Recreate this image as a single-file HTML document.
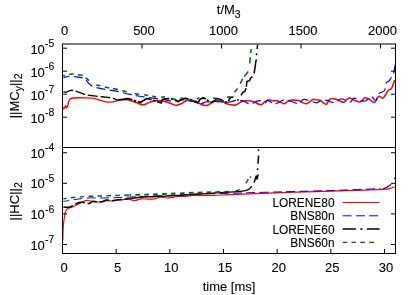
<!DOCTYPE html>
<html><head><meta charset="utf-8"><title>plot</title>
<style>html,body{margin:0;padding:0;background:#fff;}svg{display:block;will-change:transform;}text{font-family:"Liberation Sans",sans-serif;fill:#000;}</style>
</head><body>
<svg width="415" height="295" viewBox="0 0 415 295">
<rect x="0" y="0" width="415" height="295" fill="#ffffff"/>
<g>
<polyline fill="none" stroke="#ff0000" stroke-width="1.35" stroke-linejoin="round" points="63.0,109.4 64.1,107.3 64.6,108.3 65.6,105.8 66.6,107.8 67.7,106.3 68.2,103.3 69.2,100.2"/>
<path fill="none" stroke="#ff0000" stroke-width="1.35" stroke-linejoin="round" d="M69.2,100.2 C69.5,99.9 70.0,99.1 70.7,98.7 C71.4,98.3 72.0,98.2 73.3,98.0 C74.6,97.8 76.2,97.7 78.3,97.7 C80.4,97.7 82.7,97.7 85.4,97.8 C88.1,97.9 91.2,97.9 93.9,98.4 C96.6,98.9 98.3,99.8 100.7,100.4 C103.1,101.0 105.1,101.9 107.5,102.1 C109.9,102.3 111.8,102.0 114.2,101.6 C116.6,101.2 118.6,100.2 121.0,99.9 C123.4,99.6 126.8,99.8 128.0,99.8"/>
<path fill="none" stroke="#ff0000" stroke-width="1.55" stroke-linejoin="round" d="M128.0,99.8 C129.3,100.2 132.9,101.4 135.5,102.3 C138.1,103.2 141.0,104.6 143.0,104.8 C145.0,105.0 145.5,104.0 146.8,103.5 C148.1,103.0 149.2,102.5 150.6,102.0 C152.0,101.5 153.2,101.0 155.0,100.8 C156.8,100.6 158.7,100.6 160.6,100.8 C162.5,101.0 163.8,101.2 165.6,101.7 C167.3,102.2 168.7,102.9 170.6,103.5 C172.5,104.1 174.9,105.2 176.2,105.4 C177.5,105.6 177.0,105.1 178.0,104.8 C179.0,104.5 180.5,104.2 181.8,103.5 C183.1,102.8 184.2,101.6 185.5,101.0 C186.8,100.4 188.0,100.0 189.3,100.0 C190.6,100.0 191.7,100.5 193.0,100.8 C194.3,101.1 195.3,101.3 196.8,102.0 C198.3,102.7 200.1,104.2 201.8,104.8 C203.6,105.4 205.3,105.6 206.8,105.4 C208.3,105.2 209.3,104.2 210.6,103.5 C211.9,102.8 213.0,101.8 214.3,101.3 C215.6,100.8 216.6,100.7 218.1,100.8 C219.6,100.9 221.7,101.2 223.1,101.7 C224.5,102.2 224.6,103.0 226.0,103.5 C227.4,104.0 229.4,104.5 231.0,104.8 C232.6,105.1 234.1,105.2 235.4,105.0 C236.7,104.8 237.3,104.1 238.5,103.5 C239.7,102.9 240.9,101.8 242.3,101.3 C243.7,100.8 245.2,100.9 246.7,100.8 C248.2,100.7 249.6,100.7 251.0,101.0 C252.4,101.3 253.3,101.7 254.8,102.3 C256.3,102.9 258.5,104.2 259.8,104.5 C261.1,104.8 261.4,104.7 262.3,104.2 C263.2,103.7 263.7,102.4 264.8,101.7 C265.9,101.0 267.1,100.2 268.6,100.0 C270.1,99.8 272.1,100.7 273.6,100.8 C275.1,100.9 275.7,100.5 277.0,100.8 C278.3,101.1 279.5,101.9 280.8,102.4 C282.1,102.9 283.5,103.8 284.6,103.7 C285.7,103.6 286.0,102.4 287.0,101.8 C288.0,101.2 288.9,100.5 290.2,100.2 C291.5,99.9 293.1,100.1 294.6,100.2 C296.1,100.3 297.7,100.1 299.0,100.5 C300.3,100.9 300.9,101.8 302.1,102.4 C303.3,103.0 304.7,103.7 305.9,103.7 C307.1,103.7 307.9,103.1 309.0,102.4 C310.1,101.7 311.2,100.4 312.1,99.9 C313.0,99.4 312.6,99.3 314.0,99.4 C315.4,99.5 318.4,99.7 320.0,100.3 C321.6,100.9 322.1,102.1 323.3,102.8 C324.5,103.5 325.8,104.6 326.7,104.2 C327.6,103.8 327.8,101.4 328.7,100.4 C329.6,99.4 330.4,98.7 331.8,98.5 C333.2,98.3 335.3,99.0 336.8,99.5 C338.3,100.0 339.4,100.8 340.6,101.3 C341.8,101.8 342.6,102.6 343.7,102.3 C344.8,102.0 345.8,100.3 346.8,99.5 C347.8,98.7 348.5,98.0 349.4,97.9 C350.3,97.8 350.7,98.4 351.8,98.9 C352.9,99.4 354.1,100.3 355.5,100.8 C356.9,101.3 358.7,102.1 359.9,102.0 C361.1,101.9 361.5,101.0 362.4,100.2 C363.3,99.4 363.7,97.9 364.9,97.7 C366.1,97.5 367.6,98.5 369.3,99.3 C371.0,100.1 372.8,102.9 374.4,102.4 C376.0,101.9 377.1,97.2 378.6,96.4 C380.1,95.6 381.5,98.5 382.8,98.1 C384.1,97.7 385.3,95.2 386.2,93.9 C387.1,92.6 387.1,91.4 388.0,90.5 C388.9,89.6 390.4,89.8 391.3,88.8 C392.2,87.8 392.4,86.1 393.0,84.6 C393.6,83.1 394.4,80.8 394.7,80.0"/>
<path fill="none" stroke="#0000ff" stroke-width="1.2" stroke-linejoin="round" stroke-dasharray="9 4.3" stroke-dashoffset="2.8" d="M63.4,77.6 C64.6,77.4 68.0,76.3 70.2,76.2 C72.4,76.1 73.9,76.6 76.0,76.8 C78.1,77.0 80.4,77.2 82.0,77.6 C83.6,78.0 84.1,78.1 85.4,79.3 C86.7,80.5 88.2,83.0 89.7,84.3 C91.2,85.6 91.7,86.1 93.9,86.9 C96.1,87.7 98.6,88.2 102.4,88.9 C106.2,89.6 111.3,90.2 115.9,91.1 C120.5,92.0 124.6,93.3 128.5,94.2 C132.4,95.1 134.7,95.4 138.2,96.0 C141.7,96.6 144.1,96.8 148.3,97.4 C152.5,98.0 158.1,98.8 162.0,99.4 C165.9,100.0 167.7,100.5 170.4,100.8 C173.1,101.1 175.2,101.3 177.2,101.1 C179.2,100.9 180.3,99.9 182.0,99.8 C183.7,99.7 185.2,100.2 187.0,100.5 C188.8,100.8 190.4,101.4 192.0,101.5 C193.6,101.6 194.4,100.9 196.0,101.3 C197.6,101.7 199.2,103.6 201.0,103.7 C202.8,103.8 203.9,102.5 206.0,102.0 C208.1,101.5 210.3,101.1 213.0,101.1 C215.7,101.1 218.4,101.8 221.4,102.0 C224.4,102.2 227.3,102.3 230.0,102.0 C232.7,101.7 234.3,100.5 236.7,100.3 C239.1,100.1 241.1,100.4 243.5,101.1 C245.9,101.8 247.8,104.2 250.2,104.2 C252.6,104.2 255.2,101.7 257.0,101.1 C258.8,100.5 258.9,100.5 260.4,100.8 C261.9,101.1 264.3,102.9 265.5,102.8 C266.7,102.7 266.5,100.4 267.4,100.3 C268.3,100.2 269.6,101.3 270.8,102.0 C272.0,102.7 272.7,104.2 274.2,104.2 C275.7,104.2 277.8,102.7 279.3,102.0 C280.8,101.3 281.3,100.6 282.6,100.3 C283.9,100.0 285.2,100.0 287.0,100.3 C288.8,100.6 290.9,101.4 292.8,102.0 C294.7,102.6 296.7,103.7 298.0,103.7 C299.3,103.7 299.5,102.8 300.5,102.0 C301.5,101.2 302.2,99.6 303.8,99.4 C305.4,99.2 307.6,100.2 309.8,100.8 C312.0,101.4 314.4,102.9 316.5,102.8 C318.6,102.7 319.7,100.7 321.6,100.3 C323.5,99.9 326.0,100.0 327.6,100.3 C329.2,100.6 329.6,101.6 331.0,102.0 C332.4,102.4 333.7,102.9 335.4,102.4 C337.1,101.9 338.9,99.5 340.5,99.0 C342.1,98.5 342.9,99.3 344.7,99.8 C346.5,100.3 349.0,102.3 350.6,102.0 C352.2,101.7 352.2,98.3 354.0,98.1 C355.8,97.9 358.7,100.2 360.8,100.7 C362.9,101.2 364.2,101.5 366.0,100.7 C367.8,99.9 369.2,96.4 371.0,96.4 C372.8,96.4 374.7,101.1 376.0,100.7 C377.3,100.3 377.1,95.7 378.6,93.9 C380.1,92.1 383.2,92.4 384.5,90.5 C385.8,88.6 385.4,84.5 386.2,82.9 C387.0,81.3 387.8,82.4 388.8,81.2 C389.9,80.0 391.3,77.7 392.2,76.1 C393.1,74.5 393.4,74.0 393.9,71.9 C394.4,69.8 395.0,65.5 395.2,64.2"/>
<path fill="none" stroke="#000000" stroke-width="1.35" stroke-linejoin="round" stroke-dasharray="10 2.7" d="M63.4,92.0 C64.0,92.0 65.5,92.3 66.8,92.0 C68.1,91.7 69.2,90.4 71.0,90.3 C72.8,90.2 74.5,90.9 77.0,91.6 C79.5,92.3 82.4,93.7 85.4,94.5 C88.4,95.3 90.6,95.5 93.9,95.9 C97.2,96.3 101.0,96.7 104.0,97.0 C107.0,97.3 108.4,97.4 110.8,97.9 C113.2,98.4 116.4,99.6 117.6,99.9"/>
<polyline fill="none" stroke="#000000" stroke-width="1.7" stroke-linejoin="round" stroke-dasharray="15 1.6 2.6 1.6" points="117.6,99.9 122.7,99.3 128.0,98.5 133.0,100.0 137.0,101.5 140.5,102.3 143.5,100.5 146.8,98.5 151.2,99.5 155.0,101.0 158.5,102.0 161.2,102.9 162.5,99.5 165.0,98.8 168.1,98.5 173.1,99.2 177.0,100.8 178.0,101.7 181.8,99.2 185.5,98.3 190.5,99.5 194.3,101.7 198.0,102.9 200.0,99.2 203.0,97.9 206.8,99.2 208.7,101.7 211.8,102.3 214.3,101.0 216.8,98.5 220.6,99.5 224.4,101.7 226.5,102.3 228.5,101.0 230.4,97.3 233.5,97.0"/>
<polyline fill="none" stroke="#000000" stroke-width="1.75" points="237.4,99.6 238.6,100.4"/>
<polyline fill="none" stroke="#000000" stroke-width="1.5" stroke-linejoin="round" points="241.0,95.4 242.9,92.3 244.8,91.6 246.0,88.2"/>
<polyline fill="none" stroke="#000000" stroke-width="1.5" stroke-linejoin="round" points="246.3,86.8 246.9,81.5 249.5,80.6 250.5,78.2 252.4,76.6"/>
<polyline fill="none" stroke="#000000" stroke-width="1.5" stroke-linejoin="round" points="254.0,73.5 255.0,68.0 255.8,62.0 256.4,59.3"/>
<polyline fill="none" stroke="#000000" stroke-width="1.5" stroke-linejoin="round" points="256.5,53.2 256.6,55.2"/>
<polyline fill="none" stroke="#000000" stroke-width="1.5" stroke-linejoin="round" points="257.2,49.0 257.5,44.8"/>
<polyline fill="none" stroke="#006400" stroke-width="1.5" points="62.5,75.7 65.0,75.4"/>
<polyline fill="none" stroke="#006400" stroke-width="1.5" points="69.2,74.3 73.6,74.1"/>
<polyline fill="none" stroke="#006400" stroke-width="1.5" points="77.9,74.8 82.7,75.3"/>
<polyline fill="none" stroke="#006400" stroke-width="1.5" points="85.6,77.9 87.5,79.2 89.0,80.6"/>
<polyline fill="none" stroke="#006400" stroke-width="1.5" points="96.2,85.0 100.4,85.8"/>
<polyline fill="none" stroke="#006400" stroke-width="1.5" points="104.8,87.0 109.2,87.9"/>
<polyline fill="none" stroke="#006400" stroke-width="1.5" points="112.9,88.5 117.9,89.5"/>
<polyline fill="none" stroke="#006400" stroke-width="1.5" points="122.3,90.8 126.7,91.7"/>
<polyline fill="none" stroke="#006400" stroke-width="1.5" points="134.8,93.5 139.2,94.5"/>
<polyline fill="none" stroke="#006400" stroke-width="1.5" points="144.2,94.8 148.0,95.4"/>
<polyline fill="none" stroke="#006400" stroke-width="1.5" points="152.4,96.0 156.2,97.3"/>
<polyline fill="none" stroke="#006400" stroke-width="1.5" points="161.2,97.3 165.0,96.7"/>
<polyline fill="none" stroke="#006400" stroke-width="1.5" points="171.9,98.5 176.2,99.8"/>
<polyline fill="none" stroke="#006400" stroke-width="1.5" points="180.5,97.9 183.6,98.5"/>
<polyline fill="none" stroke="#006400" stroke-width="1.5" points="188.7,99.8 191.8,100.8"/>
<polyline fill="none" stroke="#006400" stroke-width="1.5" points="196.8,99.2 199.3,97.5"/>
<polyline fill="none" stroke="#006400" stroke-width="1.5" points="207.5,101.6 209.4,101.8"/>
<polyline fill="none" stroke="#006400" stroke-width="1.5" points="213.0,97.9 216.8,98.5"/>
<polyline fill="none" stroke="#006400" stroke-width="1.5" points="221.2,100.8 223.7,101.7"/>
<polyline fill="none" stroke="#006400" stroke-width="1.5" points="226.9,97.3 230.0,96.7"/>
<polyline fill="none" stroke="#006400" stroke-width="1.5" points="234.5,92.4 237.5,88.5"/>
<polyline fill="none" stroke="#006400" stroke-width="1.5" points="240.2,83.7 242.6,78.6"/>
<polyline fill="none" stroke="#006400" stroke-width="1.5" points="244.2,76.6 246.5,73.7 248.3,71.5"/>
<polyline fill="none" stroke="#006400" stroke-width="1.5" points="249.8,63.4 250.3,57.3"/>
<polyline fill="none" stroke="#006400" stroke-width="1.5" points="250.7,53.2 251.2,49.1"/>
<path fill="none" stroke="#ff0000" stroke-width="1.2" stroke-linejoin="round" d="M62.8,240.0 C62.9,237.8 63.0,231.0 63.2,227.3 C63.4,223.6 63.9,221.2 64.2,218.8 C64.5,216.4 64.8,215.0 65.0,213.7 C65.2,212.4 65.2,212.2 65.6,211.3 C66.0,210.4 66.3,209.6 67.5,208.8 C68.7,208.0 70.8,207.7 72.5,206.9 C74.2,206.1 75.7,205.3 77.5,204.4 C79.3,203.5 80.9,202.6 82.6,201.9 C84.3,201.2 85.5,200.4 87.0,200.3 C88.5,200.2 89.7,201.0 91.3,201.3 C92.9,201.6 94.5,201.8 96.3,201.9 C98.1,202.0 99.6,202.1 101.4,201.9 C103.2,201.7 104.5,200.9 106.4,200.7 C108.3,200.5 110.4,201.0 112.0,201.0 C113.6,201.0 113.9,200.7 115.5,200.5 C117.1,200.3 118.7,200.0 121.0,199.8 C123.3,199.6 126.1,199.1 128.5,199.2 C130.9,199.3 132.5,200.6 134.8,200.5 C137.1,200.4 139.2,199.0 141.6,198.8 C144.0,198.6 146.0,199.2 148.3,199.2 C150.6,199.2 152.9,199.2 155.0,198.8 C157.1,198.4 158.1,197.2 160.2,197.1 C162.3,197.0 164.6,198.0 167.0,198.0 C169.4,198.0 171.7,197.4 173.8,197.1 C175.9,196.8 176.7,196.4 178.8,196.3 C180.9,196.2 183.2,196.5 185.6,196.3 C188.0,196.1 190.3,195.6 192.4,195.4 C194.5,195.2 193.9,195.4 197.5,195.4 C201.1,195.4 207.3,195.4 213.0,195.3 C218.7,195.2 221.1,195.0 230.0,194.7 C238.9,194.3 252.1,193.8 264.0,193.3 C275.9,192.8 286.1,192.5 298.0,192.1 C309.9,191.7 321.6,191.5 332.0,191.2 C342.4,190.9 348.5,190.7 357.4,190.4 C366.3,190.1 377.2,189.7 382.8,189.4 C388.4,189.1 387.5,189.1 389.6,188.6 C391.7,188.1 393.8,187.1 394.7,186.8"/>
<path fill="none" stroke="#0000ff" stroke-width="1.0" stroke-linejoin="round" stroke-dasharray="9 4.3" stroke-dashoffset="3.0" d="M63.4,201.5 C65.2,201.2 69.5,200.4 73.6,199.8 C77.7,199.2 82.3,198.3 87.0,198.0 C91.7,197.7 95.9,198.1 100.7,198.0 C105.5,197.9 109.2,197.9 114.2,197.7 C119.2,197.5 124.1,197.2 129.5,197.0 C134.9,196.8 139.3,196.5 145.0,196.3 C150.7,196.1 156.1,195.8 162.0,195.6 C167.9,195.4 172.8,195.2 179.0,194.9 C185.2,194.6 188.6,194.3 197.5,194.0 C206.4,193.7 218.4,193.6 230.0,193.3 C241.6,193.0 252.1,192.6 264.0,192.3 C275.9,192.0 286.1,191.7 298.0,191.4 C309.9,191.1 321.6,190.8 332.0,190.5 C342.4,190.2 348.9,189.8 357.4,189.5 C365.9,189.2 376.5,188.8 380.5,188.7"/>
<polyline fill="none" stroke="#0000ff" stroke-width="1.2" stroke-linejoin="round" points="383.0,188.7 387.0,187.2 391.2,184.2"/>
<polyline fill="none" stroke="#0000ff" stroke-width="1.2" stroke-linejoin="round" points="394.6,179.2 395.0,177.3"/>
<path fill="none" stroke="#000000" stroke-width="1.5" stroke-linejoin="round" stroke-dasharray="10 2.7" d="M63.4,207.0 C64.0,207.1 65.6,207.3 66.8,207.3 C68.0,207.3 69.2,207.3 70.2,207.0 C71.2,206.7 71.0,206.5 72.5,205.7 C74.0,204.9 77.0,203.1 78.8,202.5 C80.6,201.9 81.3,202.2 82.6,202.3 C83.9,202.4 85.0,203.0 86.3,203.2 C87.6,203.4 88.9,203.5 90.0,203.2 C91.1,202.9 91.3,201.5 92.6,201.3 C93.9,201.1 95.8,201.9 97.6,201.9 C99.3,201.9 101.1,201.8 102.6,201.5 C104.1,201.2 104.8,200.1 106.4,200.0 C108.0,199.9 110.0,200.7 112.0,200.7 C114.0,200.7 115.4,200.0 117.6,199.8 C119.8,199.6 122.3,199.5 124.4,199.3 C126.5,199.1 128.6,198.6 129.5,198.5"/>
<path fill="none" stroke="#000000" stroke-width="1.3" stroke-linejoin="round" d="M129.5,198.5 C131.0,198.3 134.7,197.8 138.0,197.5 C141.3,197.2 144.1,197.0 148.3,196.8 C152.5,196.6 156.6,196.5 162.0,196.3 C167.4,196.1 172.8,195.8 179.0,195.4 C185.2,195.0 191.6,194.6 197.5,194.2 C203.4,193.8 207.3,193.5 213.0,193.1 C218.7,192.7 225.2,192.4 230.0,192.1 C234.8,191.8 237.3,191.7 240.2,191.4 C243.1,191.1 244.6,190.9 246.3,190.4 C248.0,189.9 249.0,189.2 249.9,188.4 C250.8,187.6 251.3,186.5 251.6,186.1"/>
<polyline fill="none" stroke="#000000" stroke-width="1.5" stroke-linejoin="round" points="254.2,182.6 255.5,178.0 256.2,176.0 257.0,179.0 258.2,174.5"/>
<polyline fill="none" stroke="#000000" stroke-width="1.5" points="258.5,149.5 258.5,151.0"/>
<polyline fill="none" stroke="#000000" stroke-width="1.5" points="258.6,155.5 258.3,159.5 258.0,163.7"/>
<polyline fill="none" stroke="#000000" stroke-width="1.5" points="257.6,168.3 257.6,170.1"/>
<path fill="none" stroke="#006400" stroke-width="1.45" stroke-linejoin="round" stroke-dasharray="4.6 4.3" stroke-dashoffset="1.4" d="M63.4,198.8 C65.8,198.5 72.3,197.5 77.0,197.1 C81.7,196.7 85.8,196.5 90.5,196.3 C95.2,196.1 99.3,196.1 104.0,195.9 C108.7,195.7 113.1,195.6 117.6,195.4 C122.1,195.2 127.4,195.1 129.5,195.0"/>
<path fill="none" stroke="#006400" stroke-width="1.8" stroke-linejoin="round" stroke-dasharray="4.6 4.3" stroke-dashoffset="3.0" d="M129.5,195.0 C132.2,194.9 139.3,194.8 145.0,194.6 C150.7,194.4 156.1,194.2 162.0,194.0 C167.9,193.8 172.8,193.6 179.0,193.4 C185.2,193.2 191.6,192.8 197.5,192.6 C203.4,192.4 207.1,192.4 213.0,192.2 C218.9,192.0 227.8,191.7 231.0,191.6"/>
<polyline fill="none" stroke="#006400" stroke-width="1.45" points="235.6,190.9 239.7,189.6"/>
<polyline fill="none" stroke="#006400" stroke-width="1.45" points="245.8,183.3 247.2,181.2 248.3,179.2"/>
<polyline fill="none" stroke="#006400" stroke-width="1.45" points="249.9,177.5 250.8,176.6"/>
</g>
<g stroke="#000" stroke-width="1" fill="none">
<path d="M62.5,44.0 H395.5 M62.5,147.5 H395.5 M62.5,253.5 H395.5 M62.5,43.5 V254.0 M395.5,43.5 V254.0"/>
<path d="M62.5,44.0 v4.5"/>
<path d="M142,44.0 v4.5"/>
<path d="M221.5,44.0 v4.5"/>
<path d="M301,44.0 v4.5"/>
<path d="M380.5,44.0 v4.5"/>
<path d="M62.50,253.5 v-4.5"/>
<path d="M116.17,253.5 v-4.5"/>
<path d="M169.83,253.5 v-4.5"/>
<path d="M223.50,253.5 v-4.5"/>
<path d="M277.17,253.5 v-4.5"/>
<path d="M330.83,253.5 v-4.5"/>
<path d="M384.50,253.5 v-4.5"/>
<path d="M62.5,48.2 h4.5 M395.5,48.2 h-4.5"/>
<path d="M62.5,71.2 h4.5 M395.5,71.2 h-4.5"/>
<path d="M62.5,94.2 h4.5 M395.5,94.2 h-4.5"/>
<path d="M62.5,117.2 h4.5 M395.5,117.2 h-4.5"/>
<path d="M62.5,152.75 h4.5 M395.5,152.75 h-4.5"/>
<path d="M62.5,183.30 h4.5 M395.5,183.30 h-4.5"/>
<path d="M62.5,213.90 h4.5 M395.5,213.90 h-4.5"/>
<path d="M62.5,244.50 h4.5 M395.5,244.50 h-4.5"/>
</g>
<g font-size="13" stroke="#000" stroke-width="0.1">
<text x="216.8" y="13.9">t/M<tspan font-size="10.4" dy="3.9">3</tspan></text>
<text x="64.5" y="34.6" text-anchor="middle">0</text>
<text x="144.0" y="34.6" text-anchor="middle">500</text>
<text x="223.5" y="34.6" text-anchor="middle">1000</text>
<text x="303.0" y="34.6" text-anchor="middle">1500</text>
<text x="382.5" y="34.6" text-anchor="middle">2000</text>
<text x="64.00" y="271.8" text-anchor="middle">0</text>
<text x="117.67" y="271.8" text-anchor="middle">5</text>
<text x="171.33" y="271.8" text-anchor="middle">10</text>
<text x="225.00" y="271.8" text-anchor="middle">15</text>
<text x="278.67" y="271.8" text-anchor="middle">20</text>
<text x="332.33" y="271.8" text-anchor="middle">25</text>
<text x="386.00" y="271.8" text-anchor="middle">30</text>
<text x="229" y="291.2" text-anchor="middle">time [ms]</text>
<text x="30.4" y="53.70">10<tspan x="45.1" font-size="10.4" dy="-6.3">-5</tspan></text>
<text x="30.4" y="76.70">10<tspan x="45.1" font-size="10.4" dy="-6.3">-6</tspan></text>
<text x="30.4" y="99.70">10<tspan x="45.1" font-size="10.4" dy="-6.3">-7</tspan></text>
<text x="30.4" y="122.70">10<tspan x="45.1" font-size="10.4" dy="-6.3">-8</tspan></text>
<text x="30.4" y="157.70">10<tspan x="45.1" font-size="10.4" dy="-6.3">-4</tspan></text>
<text x="30.4" y="188.37">10<tspan x="45.1" font-size="10.4" dy="-6.3">-5</tspan></text>
<text x="30.4" y="219.03">10<tspan x="45.1" font-size="10.4" dy="-6.3">-6</tspan></text>
<text x="30.4" y="249.70">10<tspan x="45.1" font-size="10.4" dy="-6.3">-7</tspan></text>
<text transform="translate(18.5,118.3) rotate(-90)">||MC<tspan font-size="10.4" dy="3.9">y</tspan><tspan dy="-3.9">||</tspan><tspan font-size="10.4" dy="3.9">2</tspan></text>
<text transform="translate(18.5,220.4) rotate(-90)">||HC||<tspan font-size="10.4" dy="3.9">2</tspan></text>
</g>
<g font-size="11.9" stroke="#000" stroke-width="0.1">
<text x="334.5" y="207.0" text-anchor="end">LORENE80</text>
<text x="334.5" y="220.3" text-anchor="end">BNS80n</text>
<text x="334.5" y="233.5" text-anchor="end">LORENE60</text>
<text x="334.5" y="246.8" text-anchor="end">BNS60n</text>
</g>
<path d="M342.6,202.5 H379.6" stroke="#ff0000" stroke-width="1.0" fill="none"/>
<path d="M342.6,215.8 H379.6" stroke="#0000ff" stroke-width="1.0" stroke-dasharray="9 4.3" fill="none"/>
<path d="M342.6,229.0 H379.6" stroke="#000000" stroke-width="1.5" stroke-dasharray="13.3 4.4 2.2 4.4" fill="none"/>
<path d="M342.6,242.3 H376" stroke="#006400" stroke-width="1.2" stroke-dasharray="4.6 4.3" fill="none"/>
</svg>
</body></html>
